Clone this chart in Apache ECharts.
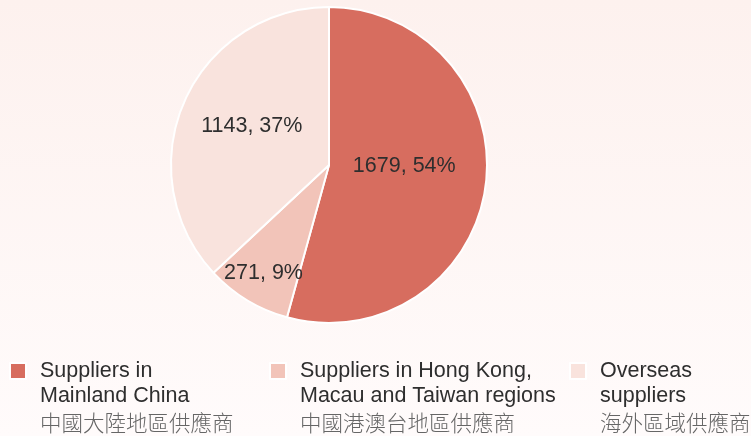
<!DOCTYPE html>
<html>
<head>
<meta charset="utf-8">
<script src="https://cdn.jsdelivr.net/npm/echarts@6/dist/echarts.min.js"></script>
<style>
  html, body { margin: 0; padding: 0; }
  #chart { width: 751px; height: 436px; }
</style>
</head>
<body>
<div id="chart"></div>
<script>
// data
const names = ['Mainland China', 'Hong Kong, Macau and Taiwan', 'Overseas'];
const values = [1679, 271, 1143];
const percents = [54, 9, 37];
const enLabels = [
  'Suppliers in\nMainland China',
  'Suppliers in Hong Kong,\nMacau and Taiwan regions',
  'Overseas\nsuppliers'
];
const zhLabels = ['中國大陸地區供應商', '中國港澳台地區供應商', '海外區域供應商'];
const colors = ['#d76d5f', '#f2c4b9', '#f9e3dd'];

const chart = echarts.init(document.getElementById('chart'));

const legendLeft = [4, 264, 564];

// one legend per item so each can sit at its own column
const legends = names.map((n, i) => ({
  data: [n],
  left: legendLeft[i],
  top: 355,
  icon: 'rect',
  itemWidth: 16,
  itemHeight: 16,
  selectedMode: false,
  formatter: (name) => {
    const k = names.indexOf(name);
    return enLabels[k].split('\n').map(s => '{en|' + s + '}').join('\n') + '\n{zh|' + zhLabels[k] + '}';
  },
  textStyle: {
    padding: [54, 0, 0, 9],
    rich: {
      en: { fontFamily: 'Liberation Sans', fontSize: 21.5, color: '#2e2e2e', lineHeight: 25 },
      zh: { fontFamily: 'Noto Sans CJK TC', fontSize: 21.5, color: '#666', lineHeight: 29, fontWeight: 300 }
    }
  }
}));

const option = {
  backgroundColor: {
    type: 'linear', x: 0, y: 0, x2: 0, y2: 1,
    colorStops: [
      { offset: 0, color: '#fdf1ee' },
      { offset: 1, color: '#fffbfb' }
    ]
  },
  color: colors,
  legend: legends,
  series: [
    {
      type: 'pie',
      center: [329, 165],
      radius: 158,
      startAngle: 90,
      clockwise: true,
      avoidLabelOverlap: false,
      itemStyle: { borderColor: '#fff', borderWidth: 2 },
      label: {
        position: 'inside',
        fontFamily: 'Liberation Sans',
        fontSize: 21.5,
        color: '#2e2e2e',
        formatter: (p) => p.value + ', ' + percents[p.dataIndex] + '%'
      },
      labelLine: { show: false },
      labelLayout: (p) => {
        if (p.dataIndex === 1) return { dx: -23, dy: 38 };
        if (p.dataIndex === 0) return { dx: -6, dy: -10 };
        if (p.dataIndex === 2) return { dx: -2, dy: -6 };
        return {};
      },
      emphasis: { disabled: true },
      data: names.map((n, i) => ({ name: n, value: values[i] }))
    }
  ]
};

chart.setOption(option);
</script>
</body>
</html>
